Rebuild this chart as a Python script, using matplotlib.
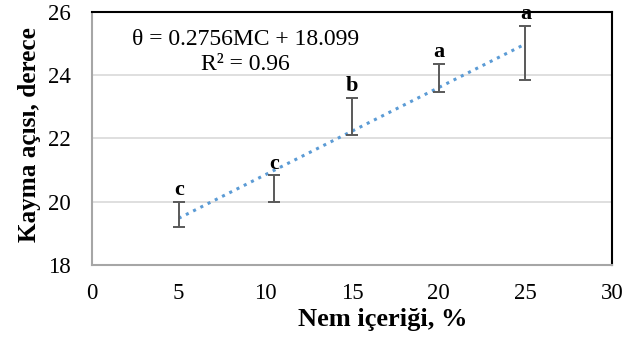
import numpy as np
import matplotlib.pyplot as plt

nem = [5, 10.5, 15, 20, 25]
aci = [19.6, 20.4, 22.7, 23.9, 24.7]
alt = [0.41, 0.42, 0.59, 0.44, 0.85]
ust = [0.40, 0.43, 0.59, 0.47, 0.87]
harf = ['c', 'c', 'b', 'a', 'a']

plt.rcParams['font.family'] = ['Liberation Serif', 'DejaVu Serif']

fig = plt.figure(figsize=(6.36, 3.38), dpi=100)
ax = fig.add_axes([0.1447, 0.216, 0.8176, 0.7485])

# trend line
egim, kesim = np.polyfit(nem, aci, 1)
xt = np.array([nem[0], nem[-1]])
ax.plot(xt, egim * xt + kesim, ':', color='#5b9bd5', lw=2.2, zorder=2)

ax.errorbar(nem, aci, yerr=[alt, ust], fmt='none', ecolor='#595959',
            elinewidth=1.4, capsize=4.5, capthick=1.4, zorder=3)

for x, y, u, h in zip(nem, aci, ust, harf):
    ax.annotate(h, (x, y + u), xytext=(0, 4.5), textcoords='offset points',
                ha='center', va='baseline', fontsize=16, fontweight='bold',
                annotation_clip=False)

ax.text(8.83, 25.12, 'θ = 0.2756MC + 18.099', ha='center', va='center', fontsize=17)
ax.text(8.83, 24.33, 'R² = 0.96', ha='center', va='center', fontsize=17)

ax.set_xlim(0, 30)
ax.set_ylim(18, 26)
ax.set_xticks(range(0, 31, 5))
ax.set_yticks(range(18, 27, 2))
ax.tick_params(length=0, labelsize=16.5)
ax.tick_params(axis='y', pad=15)
ax.tick_params(axis='x', pad=13)
ax.yaxis.grid(True, color='#d9d9d9', lw=1.2)
ax.set_axisbelow(True)

for s in ['left', 'bottom']:
    ax.spines[s].set_color('#a6a6a6')
    ax.spines[s].set_linewidth(1.5)
for s in ['top', 'right']:
    ax.spines[s].set_color('black')
    ax.spines[s].set_linewidth(1.5)

ax.set_xlabel('Nem içeriği, %', fontsize=19, fontweight='bold', va='center')
ax.set_ylabel('Kayma açısı, derece', fontsize=18.2, fontweight='bold', va='center')
ax.xaxis.set_label_coords(0.56, -0.217)
ax.yaxis.set_label_coords(-0.12, 0.514)

plt.savefig('out.png', dpi=100)
